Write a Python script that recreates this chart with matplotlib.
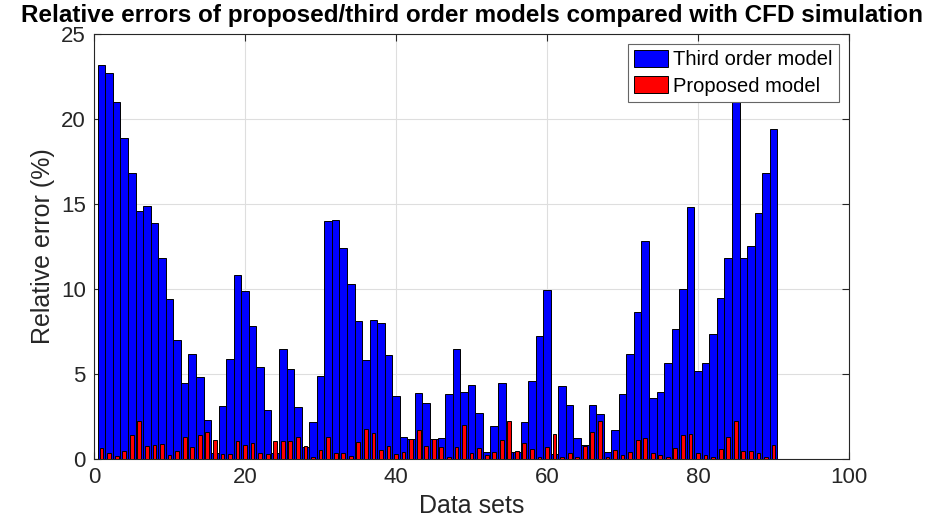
import numpy as np
import matplotlib
matplotlib.use("Agg")
import matplotlib.pyplot as plt

plt.rcParams['font.family'] = ['Liberation Sans', 'DejaVu Sans']

# relative error (%) for each of the 90 data sets
third_order = [
    23.2, 22.7, 21.0, 18.9, 16.8, 14.6, 14.9, 13.9, 11.8, 9.4,
    7.0, 4.5, 6.2, 4.8, 2.3, 0.33, 3.1, 5.9, 10.8, 9.9,
    7.8, 5.4, 2.9, 0.33, 6.5, 5.3, 3.06, 0.7, 2.2, 4.9,
    14.0, 14.06, 12.4, 10.3, 8.1, 5.8, 8.2, 8.0, 6.1, 3.7,
    1.3, 1.2, 3.86, 3.3, 1.2, 1.24, 3.8, 6.5, 3.96, 4.35,
    2.7, 0.43, 1.96, 4.47, 0.43, 0.43, 2.16, 4.59, 7.24, 9.92,
    0.3, 4.31, 3.2, 1.25, 0.82, 3.16, 2.63, 0.4, 1.7, 3.82,
    6.16, 8.63, 12.8, 3.6, 3.96, 5.65, 7.67, 9.98, 14.84, 5.2,
    5.65, 7.35, 9.5, 11.84, 22.0, 11.8, 12.55, 14.5, 16.8, 19.4,
]
proposed = [
    0.63, 0.37, 0.2, 0.47, 1.41, 2.25, 0.78, 0.82, 0.88, 0.24,
    0.49, 1.29, 0.73, 1.39, 1.59, 1.12, 0.31, 0.29, 1.08, 0.82,
    0.92, 0.37, 0.27, 1.06, 1.08, 1.08, 1.27, 0.78, 0.1, 0.53,
    1.29, 0.33, 0.37, 0.16, 0.98, 1.75, 1.55, 0.53, 0.78, 0.31,
    0.43, 1.2, 1.7, 0.75, 1.16, 0.69, 0.1, 0.73, 1.98, 0.33,
    0.63, 0.24, 0.39, 1.14, 2.25, 0.47, 0.96, 0.57, 0.1, 0.73,
    1.5, 0.1, 0.37, 0.1, 0.78, 1.57, 2.25, 0.1, 0.53, 0.24,
    0.43, 1.12, 1.22, 0.33, 0.24, 0.1, 0.63, 1.41, 1.45, 0.38,
    0.24, 0.1, 0.57, 1.27, 2.25, 0.49, 0.49, 0.37, 0.14, 0.82,
]
data_sets = np.arange(1, len(third_order) + 1)

txt = (0.15, 0.15, 0.15)

fig = plt.figure(figsize=(9.33, 5.29), dpi=100)
ax = fig.add_axes([0.1008, 0.1323, 0.8092, 0.8034])

ax.bar(data_sets, third_order, width=1.0, color=(0, 0, 1),
       edgecolor='black', linewidth=0.7, label='Third order model', zorder=2)
ax.bar(data_sets, proposed, width=0.5, color=(1, 0, 0),
       edgecolor='black', linewidth=0.7, label='Proposed model', zorder=3)

ax.set_xlim(0, 100)
ax.set_ylim(0, 25)
ax.set_xticks(range(0, 101, 20))
ax.set_yticks(range(0, 26, 5))
ax.grid(True, color=(0.87, 0.87, 0.87), linewidth=0.8, zorder=0)
ax.set_axisbelow(True)

for s in ax.spines.values():
    s.set_color(txt)
    s.set_linewidth(0.8)
ax.tick_params(direction='in', length=5, width=0.8, colors=txt,
               labelsize=16, top=True, right=True, pad=6)

ax.set_xlabel('Data sets', fontsize=18, color=txt, labelpad=4)
ax.set_ylabel('Relative error (%)', fontsize=18, color=txt, labelpad=4)
ax.set_title('Relative errors of proposed/third order models compared with CFD simulation',
             fontsize=17.5, fontweight='bold', color='black', pad=9)

leg = ax.legend(loc='upper right', fontsize=14.5, fancybox=False, framealpha=1,
                edgecolor=(0.4, 0.4, 0.4), borderaxespad=0.5,
                handlelength=1.7, handleheight=0.9, handletextpad=0.25,
                labelspacing=0.35, borderpad=0.3)
leg.get_frame().set_linewidth(0.8)

fig.savefig('out.png', dpi=100)
